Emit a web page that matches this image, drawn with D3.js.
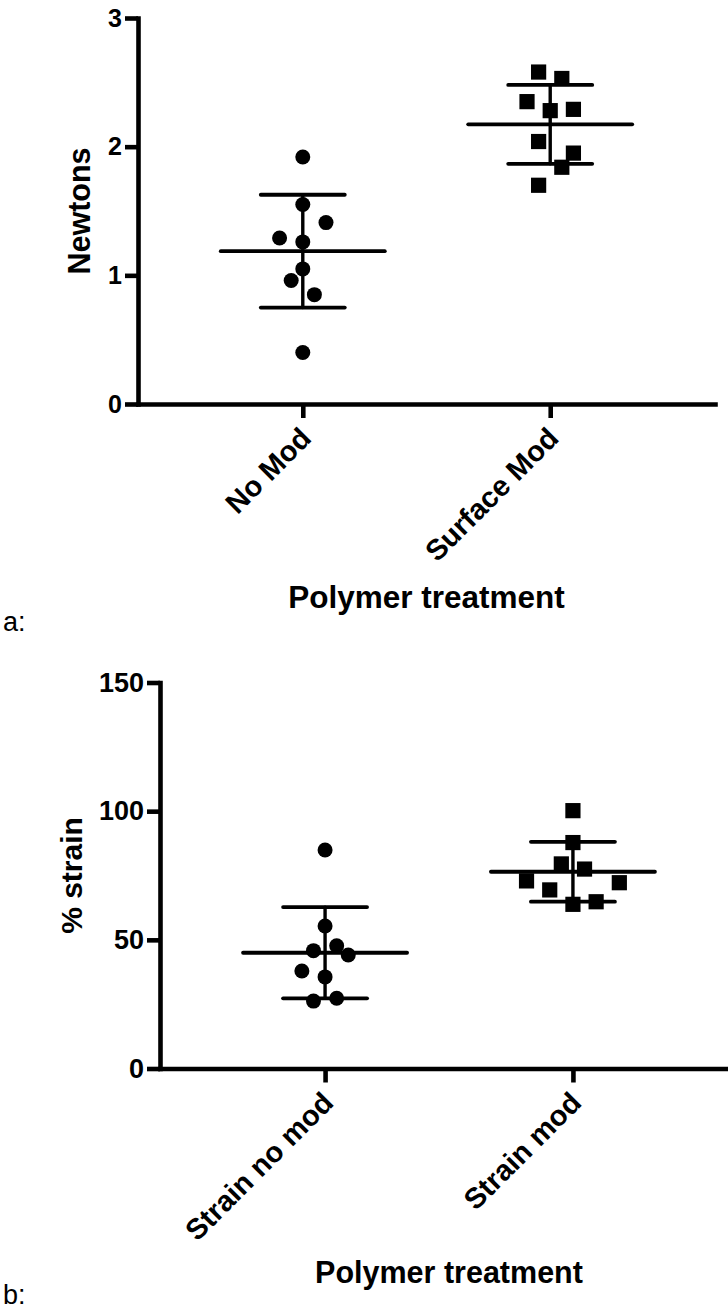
<!DOCTYPE html>
<html><head><meta charset="utf-8">
<script src="https://cdn.jsdelivr.net/npm/d3@7"></script>
<style>
html,body{margin:0;padding:0;background:#fff;}
svg{display:block;font-family:Arial,"Liberation Sans",Helvetica,sans-serif;}
</style></head><body>
<svg id="chart" width="728" height="1310"></svg>
<script>
// Panel a: force at failure (N) per polymer treatment
const forceCategories = ["No Mod", "Surface Mod"];
const forceNoMod = [1.92, 1.55, 1.41, 1.29, 1.26, 1.05, 0.96, 0.85, 0.40];
const forceSurfaceMod = [2.58, 2.53, 2.35, 2.28, 2.29, 2.04, 1.95, 1.84, 1.70];
// column-scatter lanes (half-symbol steps) for overlapping points
const forceNoModLane = [0, 0, 2, -2, 0, 0, -1, 1, 0];
const forceSurfaceModLane = [-1, 1, -2, 0, 2, -1, 2, 1, -1];
const forceTicks = [0, 1, 2, 3];

// Panel b: % strain at failure
const strainCategories = ["Strain no mod", "Strain mod"];
const strainNoMod = [84.9, 55.4, 45.8, 47.7, 44.1, 37.9, 35.6, 26.2, 27.3];
const strainMod = [100.2, 87.8, 79.5, 77.5, 72.9, 72.2, 69.4, 63.8, 64.8];
const strainNoModLane = [0, 0, -1, 1, 2, -2, 0, -1, 1];
const strainModLane = [0, 0, -1, 1, -4, 4, -2, 0, 2];
const strainTicks = [0, 50, 100, 150];

const svg = d3.select("#chart");

function drawPanel(spec) {
  const g = svg.append("g");
  const y = d3.scaleLinear().domain([0, spec.max]).range([spec.bottom, spec.top]);
  const x = d3.scalePoint().domain(spec.categories).range([spec.left, spec.right]).padding(0.666);
  const lane = d3.scaleLinear().domain([0, 1]).range([0, 11.6]);

  // y axis
  const gy = g.append("g")
    .attr("transform", `translate(${spec.left},0)`)
    .call(d3.axisLeft(y).tickValues(spec.ticks).tickSize(13).tickSizeOuter(0)
      .tickPadding(3).tickFormat(d3.format("d")));
  gy.select(".domain").attr("stroke", "#000").attr("stroke-width", 4.6).attr("stroke-linecap", "square");
  gy.selectAll(".tick line").attr("stroke", "#000").attr("stroke-width", 4.6);
  gy.selectAll(".tick text").attr("fill", "#000")
    .style("font-family", "Arial, 'Liberation Sans', sans-serif")
    .style("font-weight", "bold").style("font-size", spec.tickFont + "px");

  // x axis
  const gx = g.append("g")
    .attr("transform", `translate(0,${spec.bottom})`)
    .call(d3.axisBottom(x).tickSize(14).tickSizeOuter(0).tickFormat(""));
  gx.select(".domain").attr("stroke", "#000").attr("stroke-width", 4.6).attr("stroke-linecap", "square");
  gx.selectAll(".tick line").attr("stroke", "#000").attr("stroke-width", 4.6);

  // rotated category labels
  g.selectAll("text.cat").data(spec.categories).join("text")
    .attr("class", "cat")
    .attr("transform", d => `translate(${x(d) + spec.catDx},${spec.bottom + spec.catDy}) rotate(-45)`)
    .attr("text-anchor", "end")
    .style("font-weight", "bold").style("font-size", spec.catFont + "px")
    .text(d => d);

  // points, mean and SD for each group
  spec.groups.forEach((grp, i) => {
    const cx = x(spec.categories[i]);
    const mean = d3.mean(grp.values);
    const sd = d3.deviation(grp.values);
    const pts = grp.values.map((v, j) => ({ v, l: grp.lanes[j] }));
    if (grp.shape === "circle") {
      g.selectAll(null).data(pts).join("circle")
        .attr("cx", d => cx + lane(d.l)).attr("cy", d => y(d.v))
        .attr("r", 7.5).attr("fill", "#000");
    } else {
      g.selectAll(null).data(pts).join("rect")
        .attr("x", d => cx + lane(d.l) - 7.6).attr("y", d => y(d.v) - 7.6)
        .attr("width", 15.2).attr("height", 15.2).attr("fill", "#000");
    }
    const lines = [
      { x1: cx - 82, x2: cx + 82, y1: y(mean), y2: y(mean), w: 3.8 },
      { x1: cx - 42, x2: cx + 42, y1: y(mean + sd), y2: y(mean + sd), w: 3.8 },
      { x1: cx - 42, x2: cx + 42, y1: y(mean - sd), y2: y(mean - sd), w: 3.8 },
      { x1: cx, x2: cx, y1: y(mean + sd), y2: y(mean - sd), w: 3.4 }
    ];
    g.selectAll(null).data(lines).join("line")
      .attr("x1", d => d.x1).attr("x2", d => d.x2)
      .attr("y1", d => d.y1).attr("y2", d => d.y2)
      .attr("stroke", "#000").attr("stroke-width", d => d.w).attr("stroke-linecap", "round");
  });

  // axis titles
  g.append("text")
    .attr("transform", `translate(${spec.yTitleX},${(spec.top + spec.bottom) / 2}) rotate(-90)`)
    .attr("text-anchor", "middle")
    .style("font-weight", "bold").style("font-size", spec.yTitleFont + "px")
    .text(spec.yTitle);
  g.append("text")
    .attr("x", (x(spec.categories[0]) + x(spec.categories[1])) / 2)
    .attr("y", spec.xTitleY)
    .attr("text-anchor", "middle")
    .style("font-weight", "bold").style("font-size", spec.xTitleFont + "px")
    .text("Polymer treatment");
  g.append("text")
    .attr("x", 3).attr("y", spec.letterY)
    .style("font-size", "27px")
    .text(spec.letter);
}

drawPanel({
  categories: forceCategories,
  groups: [
    { values: forceNoMod, lanes: forceNoModLane, shape: "circle" },
    { values: forceSurfaceMod, lanes: forceSurfaceModLane, shape: "square" }
  ],
  max: 3, ticks: forceTicks,
  left: 138, right: 715, top: 18, bottom: 404,
  tickFont: 25, catFont: 29, catDx: 10, catDy: 36,
  yTitle: "Newtons", yTitleX: 90, yTitleFont: 30.5,
  xTitleY: 608, xTitleFont: 31.5,
  letter: "a:", letterY: 631
});

drawPanel({
  categories: strainCategories,
  groups: [
    { values: strainNoMod, lanes: strainNoModLane, shape: "circle" },
    { values: strainMod, lanes: strainModLane, shape: "square" }
  ],
  max: 150, ticks: strainTicks,
  left: 160, right: 738, top: 682.5, bottom: 1068.5,
  tickFont: 27, catFont: 29, catDx: 10, catDy: 36,
  yTitle: "% strain", yTitleX: 82, yTitleFont: 30,
  xTitleY: 1283, xTitleFont: 30.5,
  letter: "b:", letterY: 1304
});
</script>
</body></html>
